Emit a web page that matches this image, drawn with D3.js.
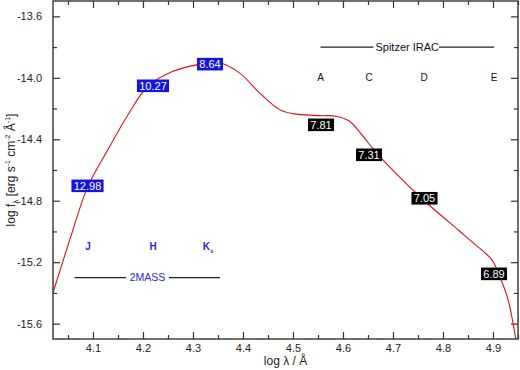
<!DOCTYPE html>
<html>
<head>
<meta charset="utf-8">
<script src="https://cdn.jsdelivr.net/npm/d3@7"></script>
<style>
  body { margin: 0; background: #fff; }
  svg { display: block; font-family: "Liberation Sans", Arial, sans-serif; }
</style>
</head>
<body>
<div id="sed_plot_container"></div>
<script>
// SED model curve (log lambda, log f_lambda)
const sed_logwave = [4.02, 4.055, 4.09, 4.13, 4.17, 4.21, 4.26, 4.31, 4.35, 4.393, 4.433,
  4.473, 4.50, 4.553, 4.587, 4.613, 4.64, 4.667, 4.76, 4.833, 4.86, 4.897, 4.913, 4.93, 4.946];
const sed_logflux = [-15.40, -15.04, -14.705, -14.467, -14.24, -14.055, -13.958, -13.914, -13.899, -13.968, -14.098,
  -14.207, -14.233, -14.246, -14.25, -14.283, -14.38, -14.488, -14.792, -14.997, -15.073, -15.182, -15.29, -15.442, -15.71];

// photometric points with magnitudes
const mag_labels = ['12.98', '10.27', '8.64', '7.81', '7.31', '7.05', '6.89'];
const mag_logwave = [4.089, 4.220, 4.334, 4.556, 4.652, 4.763, 4.902];
const mag_logflux = [-14.703, -14.052, -13.911, -14.306, -14.501, -14.784, -15.276];
const mag_survey = ['2MASS', '2MASS', '2MASS', 'IRAC', 'IRAC', 'IRAC', 'IRAC'];

// band annotations
const twomass_bands = ['J', 'H', 'K'];
const twomass_subs = ['', '', 's'];
const twomass_logwave = [4.09, 4.22, 4.33];
const irac_bands = ['A', 'C', 'D', 'E'];
const irac_logwave = [4.555, 4.652, 4.762, 4.902];

const x_ticks = [4.1, 4.2, 4.3, 4.4, 4.5, 4.6, 4.7, 4.8, 4.9];
const x_minor = [4.05, 4.15, 4.25, 4.35, 4.45, 4.55, 4.65, 4.75, 4.85, 4.95];
const y_ticks = [-13.6, -14.0, -14.4, -14.8, -15.2, -15.6];
const y_minor = [-13.8, -14.2, -14.6, -15.0, -15.4];

const axes_color = '#333';
const survey_color = {'2MASS': '#1414e0', 'IRAC': '#000'};

const svg_width = 520, svg_height = 370;
const margin = {left: 53, right: 2, top: 1, bottom: 31};
const plot_width = svg_width - margin.left - margin.right;
const plot_height = svg_height - margin.top - margin.bottom;

const svg = d3.select('#sed_plot_container').append('svg')
  .attr('width', svg_width)
  .attr('height', svg_height);

const g = svg.append('g')
  .attr('transform', `translate(${margin.left},${margin.top})`);

const x_scale = d3.scaleLinear().domain([4.02, 4.95]).range([0, plot_width]);
const y_scale = d3.scaleLinear().domain([-15.7, -13.5]).range([plot_height, 0]);

const fmt1 = v => d3.format('.1f')(v).replace('\u2212', '-');

function style_axis(sel) {
  sel.select('.domain').remove();
  sel.selectAll('line').style('stroke', axes_color).style('stroke-width', 1.2);
  sel.selectAll('text').style('fill', '#222').style('font-size', '11px')
    .style('font-family', '"Liberation Sans", Arial, sans-serif');
}

// bottom / top
g.append('g').attr('transform', `translate(0,${plot_height})`)
  .call(d3.axisBottom(x_scale).tickValues(x_ticks).tickSize(-7).tickPadding(5).tickFormat(fmt1))
  .call(style_axis);
g.append('g').attr('transform', `translate(0,${plot_height})`)
  .call(d3.axisBottom(x_scale).tickValues(x_minor).tickSize(-4).tickFormat(''))
  .call(style_axis);
g.append('g')
  .call(d3.axisTop(x_scale).tickValues(x_ticks).tickSize(-7).tickFormat(''))
  .call(style_axis);
g.append('g')
  .call(d3.axisTop(x_scale).tickValues(x_minor).tickSize(-4).tickFormat(''))
  .call(style_axis);

// left / right
g.append('g')
  .call(d3.axisLeft(y_scale).tickValues(y_ticks).tickSize(-7).tickPadding(11).tickFormat(fmt1))
  .call(style_axis);
g.append('g')
  .call(d3.axisLeft(y_scale).tickValues(y_minor).tickSize(-4).tickFormat(''))
  .call(style_axis);
g.append('g').attr('transform', `translate(${plot_width},0)`)
  .call(d3.axisRight(y_scale).tickValues(y_ticks).tickSize(-7).tickFormat(''))
  .call(style_axis);
g.append('g').attr('transform', `translate(${plot_width},0)`)
  .call(d3.axisRight(y_scale).tickValues(y_minor).tickSize(-4).tickFormat(''))
  .call(style_axis);

// SED curve
g.append('clipPath').attr('id', 'plot_clip')
  .append('rect').attr('width', plot_width).attr('height', plot_height);

const sed_points = sed_logwave.map((w, i) => ({w, f: sed_logflux[i]}));
g.append('path')
  .datum(sed_points)
  .attr('clip-path', 'url(#plot_clip)')
  .attr('d', d3.line().x(d => x_scale(d.w)).y(d => y_scale(d.f)).curve(d3.curveCatmullRom.alpha(0.5)))
  .attr('fill', 'none')
  .attr('stroke', '#e01010')
  .attr('stroke-width', 1.1);

// frame
g.append('rect')
  .attr('width', plot_width).attr('height', plot_height)
  .attr('fill', 'none').attr('stroke', axes_color).attr('stroke-width', 1.4);

// magnitude boxes
const mags = mag_labels.map((m, i) => ({m, w: mag_logwave[i], f: mag_logflux[i], s: mag_survey[i]}));
const mag_g = g.append('g').selectAll('g').data(mags).enter().append('g')
  .attr('transform', d => `translate(${x_scale(d.w)},${y_scale(d.f)})`);
mag_g.append('text')
  .attr('text-anchor', 'middle').attr('dy', '0.36em')
  .style('font-size', '11px').style('fill', '#fff')
  .text(d => d.m);
mag_g.each(function () {
  const gg = d3.select(this);
  const bb = gg.select('text').node().getBBox();
  gg.insert('rect', 'text')
    .attr('x', -bb.width / 2 - 2.3).attr('y', -6.3)
    .attr('width', bb.width + 4.6).attr('height', 12.6)
    .attr('fill', d => survey_color[d.s]);
});

// 2MASS annotations
g.selectAll('text.tm_band').data(twomass_bands).enter().append('text')
  .attr('class', 'tm_band')
  .attr('x', (d, i) => x_scale(twomass_logwave[i]))
  .attr('y', y_scale(-15.1)).attr('dy', '0.36em')
  .attr('text-anchor', 'middle')
  .style('font-size', '10px').style('font-weight', 'bold').style('fill', '#2a2ad0')
  .each(function (d, i) {
    const t = d3.select(this);
    t.append('tspan').text(d);
    if (twomass_subs[i]) t.append('tspan').attr('dy', 2.5).style('font-size', '6px').text(twomass_subs[i]);
  });

const tm_y = y_scale(-15.3);
g.append('line').attr('x1', x_scale(4.063)).attr('x2', x_scale(4.166))
  .attr('y1', tm_y).attr('y2', tm_y).attr('stroke', '#222').attr('stroke-width', 1.2);
g.append('line').attr('x1', x_scale(4.252)).attr('x2', x_scale(4.354))
  .attr('y1', tm_y).attr('y2', tm_y).attr('stroke', '#222').attr('stroke-width', 1.2);
g.append('text').attr('x', x_scale(4.209)).attr('y', tm_y).attr('dy', '0.36em')
  .attr('text-anchor', 'middle').style('font-size', '10.5px').style('fill', '#2a2ad0')
  .text('2MASS');

// IRAC annotations
g.selectAll('text.irac_band').data(irac_bands).enter().append('text')
  .attr('class', 'irac_band')
  .attr('x', (d, i) => x_scale(irac_logwave[i]))
  .attr('y', y_scale(-14.0)).attr('dy', '0.36em')
  .attr('text-anchor', 'middle')
  .style('font-size', '10px').style('fill', '#111')
  .text(d => d);

const ir_y = y_scale(-13.8);
g.append('line').attr('x1', x_scale(4.555)).attr('x2', x_scale(4.661))
  .attr('y1', ir_y).attr('y2', ir_y).attr('stroke', '#222').attr('stroke-width', 1.2);
g.append('line').attr('x1', x_scale(4.792)).attr('x2', x_scale(4.902))
  .attr('y1', ir_y).attr('y2', ir_y).attr('stroke', '#222').attr('stroke-width', 1.2);
g.append('text').attr('x', x_scale(4.7285)).attr('y', ir_y).attr('dy', '0.36em')
  .attr('text-anchor', 'middle').style('font-size', '11px').style('fill', '#111')
  .text('Spitzer IRAC');

// axis titles
svg.append('text')
  .attr('x', margin.left + plot_width / 2).attr('y', 365)
  .attr('text-anchor', 'middle').style('font-size', '12px').style('fill', '#222')
  .text('log λ / Å');

const ylab = svg.append('text')
  .attr('transform', `translate(15,${margin.top + plot_height / 2})rotate(-90)`)
  .attr('text-anchor', 'middle').style('font-size', '12px').style('fill', '#222');
ylab.append('tspan').text('log f');
ylab.append('tspan').attr('dy', 3).style('font-size', '8px').text('λ');
ylab.append('tspan').attr('dy', -3).text(' [erg s');
ylab.append('tspan').attr('dy', -5).style('font-size', '7px').text('-1');
ylab.append('tspan').attr('dy', 5).text(' cm');
ylab.append('tspan').attr('dy', -5).style('font-size', '7px').text('-2');
ylab.append('tspan').attr('dy', 5).text(' Å');
ylab.append('tspan').attr('dy', -5).style('font-size', '7px').text('-1');
ylab.append('tspan').attr('dy', 5).text(']');
</script>
</body>
</html>
